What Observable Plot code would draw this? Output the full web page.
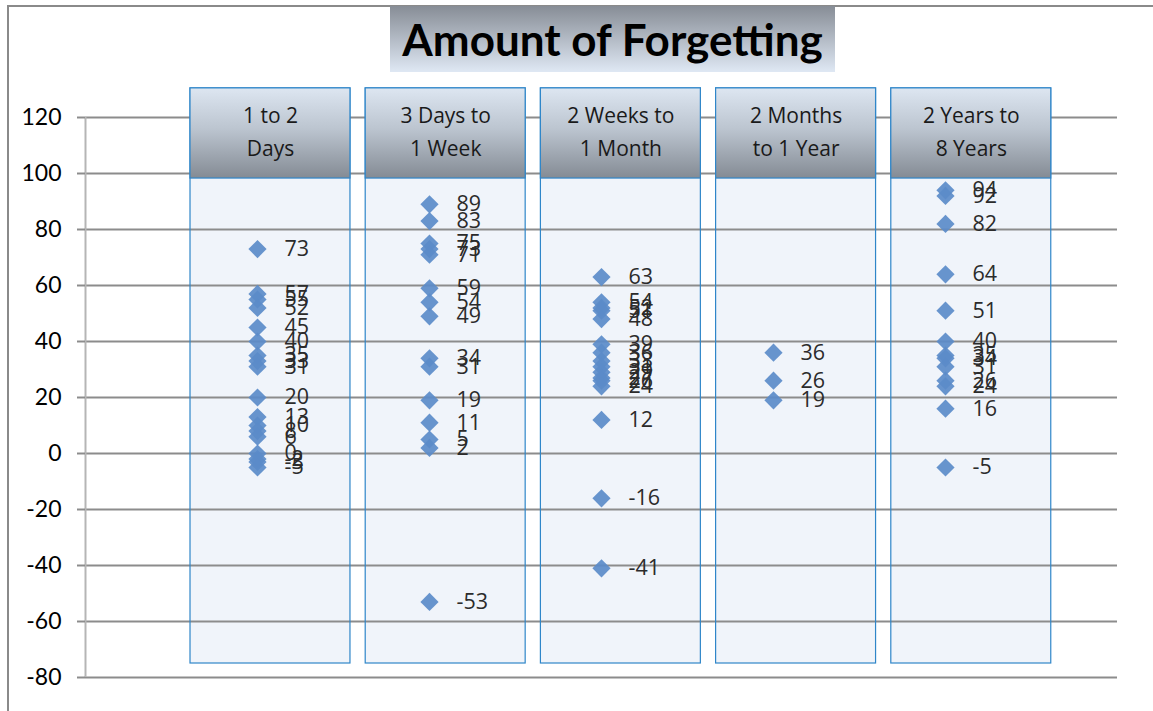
<!DOCTYPE html>
<html><head><meta charset="utf-8">
<script src="https://cdn.jsdelivr.net/npm/d3@7"></script>
<script src="https://cdn.jsdelivr.net/npm/@observablehq/plot@0.6"></script>
<style>
body{margin:0;background:#fff;}
#wrap{position:relative;width:1153px;height:711px;overflow:hidden;background:#fff;}
#frame{position:absolute;left:7px;top:5px;width:1170px;height:730px;border-left:2px solid #8a8a8a;border-top:2px solid #8a8a8a;box-sizing:border-box;}
#chart{position:absolute;left:0;top:0;}
#title{position:absolute;left:390px;top:6px;width:445px;height:66px;background:linear-gradient(#878d96,#dfe8f4);font:bold 44px Lato, sans-serif;display:flex;align-items:center;justify-content:center;color:#000;}
</style></head><body>
<div id="wrap"><div id="frame"></div><div id="chart"></div><div id="title">Amount of Forgetting</div></div>
<script>
const categories = ["1 to 2 Days", "3 Days to 1 Week", "2 Weeks to 1 Month", "2 Months to 1 Year", "2 Years to 8 Years"];
const headerLabels = ["1 to 2\nDays", "3 Days to\n1 Week", "2 Weeks to\n1 Month", "2 Months\nto 1 Year", "2 Years to\n8 Years"];
const days1to2 = [73, 57, 55, 52, 45, 40, 35, 33, 31, 20, 13, 10, 8, 6, 0, -2, -3, -5];
const days3toWeek = [89, 83, 75, 73, 71, 59, 54, 49, 34, 31, 19, 11, 5, 2, -53];
const weeks2toMonth = [63, 54, 52, 51, 48, 39, 36, 33, 31, 29, 27, 26, 24, 12, -16, -41];
const months2toYear = [36, 26, 19];
const years2to8 = [94, 92, 82, 64, 51, 40, 35, 34, 31, 26, 24, 16, -5];
const yTicks = [-80, -60, -40, -20, 0, 20, 40, 60, 80, 100, 120];

const series = [days1to2, days3toWeek, weeks2toMonth, months2toYear, years2to8];
const points = series.flatMap((vals, i) => vals.map(v => ({pos: i + 1, value: v, cat: categories[i]})));
const panels = categories.map((c, i) => ({i, cat: c, label: headerLabels[i]}));
const px1 = d => 0.6105 + 1.0186 * d.i;
const px2 = d => 0.6105 + 1.0186 * d.i + 0.93;

const svg = Plot.plot({
  width: 1153,
  height: 711,
  marginLeft: 85,
  marginRight: 36,
  marginTop: 117,
  marginBottom: 34,
  style: {background: "transparent", fontFamily: "Lato, sans-serif", fontSize: "22px", color: "#000"},
  x: {type: "linear", domain: [0, 6], axis: null},
  y: {type: "linear", domain: [-80, 120], label: null},
  marks: [
    Plot.rect(panels, {x1: px1, x2: px2, y1: -75, y2: 98.2, fill: "#eef3fa", fillOpacity: 0.9}),
    Plot.ruleY(yTicks, {x1: 0, x2: 6, stroke: "#8c8c8c", strokeWidth: 2}),
    Plot.ruleX([0], {y1: -80, y2: 120, stroke: "#b5b5b5", strokeWidth: 2}),
    Plot.axisY({ticks: yTicks, tickFormat: d => String(d), tickSize: 8, tickPadding: 16, stroke: "#8c8c8c", strokeWidth: 2, strokeOpacity: 1, fill: "#000", fontSize: 23, fontFamily: "Lato, sans-serif", label: null}),
    Plot.rect(panels, {x1: px1, x2: px2, y1: -75, y2: 130.4, fill: "none", stroke: "#2f86c9", strokeWidth: 1.2}),
    Plot.rect(panels, {x1: px1, x2: px2, y1: 98.2, y2: 130.4, fill: "url(#hdrGrad)", stroke: "#2f86c9", strokeWidth: 1.2}),
    Plot.text(panels, {x: d => (px1(d) + px2(d)) / 2, y: 115.8, text: "label", lineHeight: 1.55, fontSize: 21, fontFamily: "Open Sans, sans-serif", fill: "#1a1a1a"}),
    Plot.dot(points, {x: "pos", y: "value", symbol: "diamond2", r: 8.2, fill: "#5b8bc9", fillOpacity: 0.92, stroke: "none"}),
    Plot.text(points, {x: "pos", y: "value", text: d => String(d.value), dx: 27, textAnchor: "start", fontSize: 21.5, fontFamily: "Open Sans, sans-serif", fill: "#2b2b2b"})
  ]
});

d3.select(svg).insert("defs", ":first-child").html(
  '<linearGradient id="hdrGrad" x1="0" y1="0" x2="0" y2="1">' +
  '<stop offset="0" stop-color="#dde6f1"/><stop offset="0.45" stop-color="#bcc5d0"/><stop offset="1" stop-color="#848b94"/>' +
  '</linearGradient>'
);
document.getElementById("chart").appendChild(svg);
</script>
</body></html>
